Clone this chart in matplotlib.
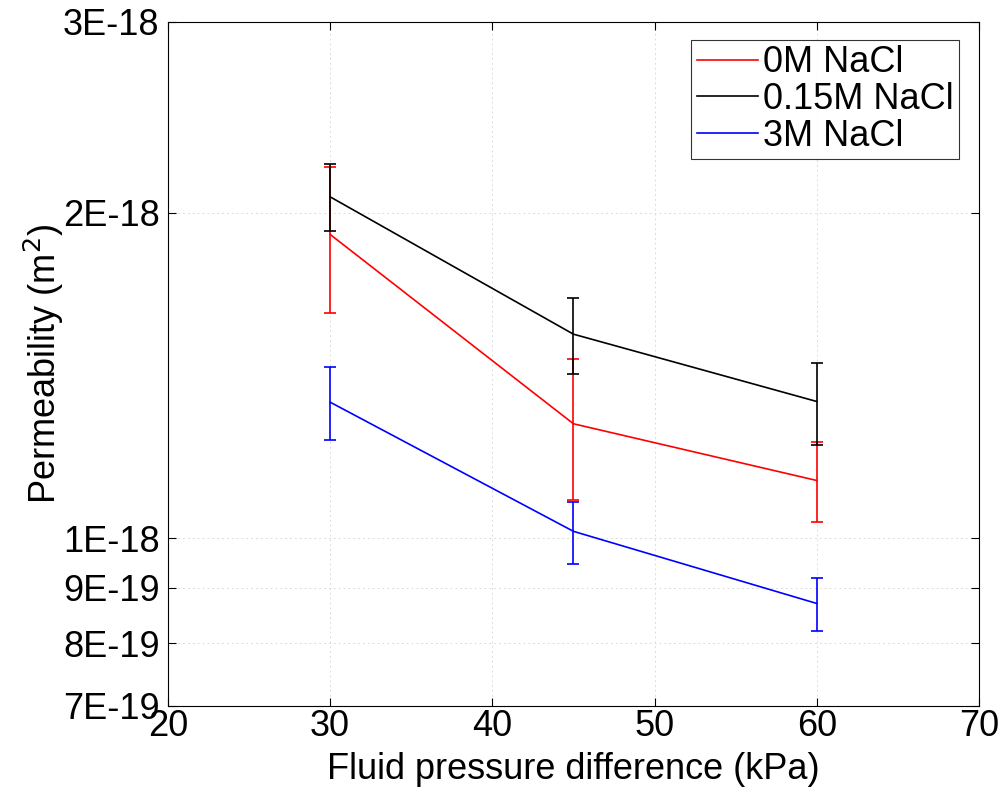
import matplotlib
matplotlib.use("Agg")
import matplotlib.pyplot as plt
from matplotlib.ticker import FixedLocator, NullLocator
from matplotlib.lines import Line2D
import numpy as np

plt.rcParams['font.family'] = ['Liberation Sans', 'DejaVu Sans']

x = [30, 45, 60]
labels = ['0M NaCl', '0.15M NaCl', '3M NaCl']
colors = ['#ff0000', '#000000', '#0000ff']

red_y = [1.909e-18, 1.276e-18, 1.131e-18]
red_hi = [2.204e-18, 1.466e-18, 1.227e-18]
red_lo = [1.616e-18, 1.084e-18, 1.035e-18]

black_y = [2.068e-18, 1.544e-18, 1.338e-18]
black_hi = [2.220e-18, 1.667e-18, 1.451e-18]
black_lo = [1.924e-18, 1.419e-18, 1.220e-18]

blue_y = [1.336e-18, 1.015e-18, 0.8706e-18]
blue_hi = [1.441e-18, 1.080e-18, 0.9185e-18]
blue_lo = [1.233e-18, 0.947e-18, 0.821e-18]

yticks = [7e-19, 8e-19, 9e-19, 1e-18, 2e-18, 3e-18]
yticklabels = ['7E-19', '8E-19', '9E-19', '1E-18', '2E-18', '3E-18']
xticks = [20, 30, 40, 50, 60, 70]

fig = plt.figure(figsize=(10.04, 7.91), dpi=100)
ax = fig.add_axes([0.1673, 0.1075, 0.8077, 0.8647])

series = [(red_y, red_hi, red_lo), (black_y, black_hi, black_lo), (blue_y, blue_hi, blue_lo)]
for (yv, hi, lo), c, lab in zip(series, colors, labels):
    yv = np.array(yv); hi = np.array(hi); lo = np.array(lo)
    ax.errorbar(x, yv, yerr=[yv - lo, hi - yv], color=c, lw=1.2, elinewidth=1.2,
                capsize=4, capthick=1.2, label=lab)

ax.set_yscale('log')
ax.set_ylim(7e-19, 3e-18)
ax.set_xlim(20, 70)
ax.yaxis.set_major_locator(FixedLocator(yticks))
ax.yaxis.set_minor_locator(NullLocator())
ax.set_yticklabels(yticklabels)
ax.set_xticks(xticks)

ax.grid(True, which='major', color='#dcdcdc', linestyle=(0, (2, 3)), lw=0.7)
ax.tick_params(direction='in', top=True, right=True, labelsize=26, length=6, width=0.8)
ax.tick_params(axis='x', pad=2)
ax.tick_params(axis='y', pad=6)
for s in ax.spines.values():
    s.set_linewidth(0.8)

ax.set_xlabel('Fluid pressure difference (kPa)', fontsize=26, labelpad=6)
ax.set_ylabel('Permeability (m$^2$)', fontsize=26, labelpad=-2)

lh = [Line2D([0], [0], color=c, lw=1.2) for c in colors]
leg = ax.legend(lh, labels, loc='upper right', fontsize=26, frameon=True, fancybox=False,
                edgecolor='black', handlelength=1.7, handletextpad=0.15, borderpad=0.15,
                labelspacing=0.05, bbox_to_anchor=(0.976, 0.974), borderaxespad=0)
leg.get_frame().set_linewidth(0.8)

fig.savefig('out.png', dpi=100)
